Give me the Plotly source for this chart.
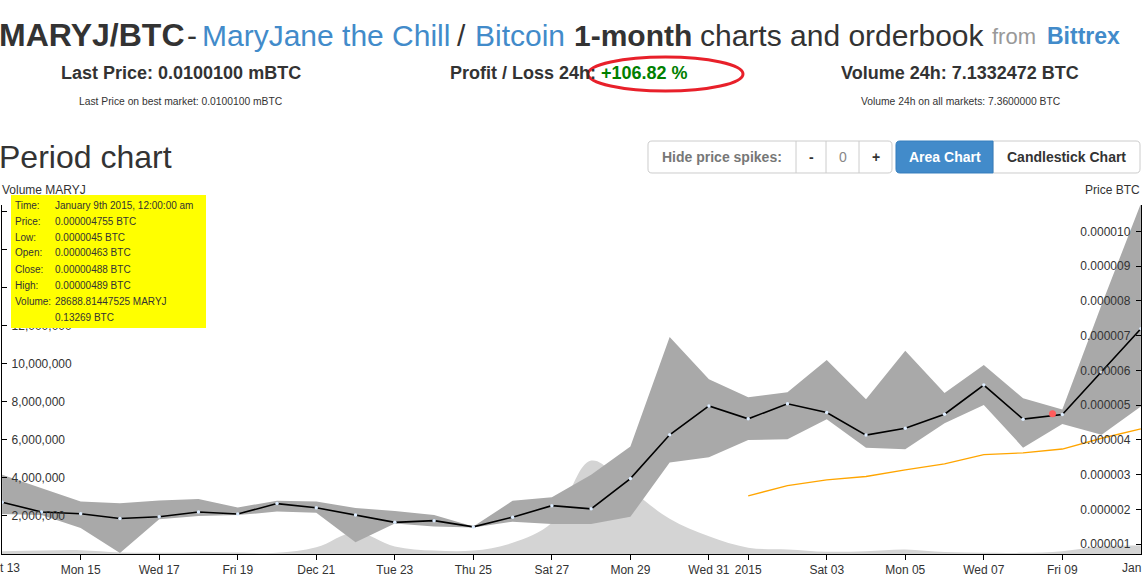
import plotly.graph_objects as go

# ---------------- data ----------------
dates = ["2014-12-13", "2014-12-14", "2014-12-15", "2014-12-16", "2014-12-17",
         "2014-12-18", "2014-12-19", "2014-12-20", "2014-12-21", "2014-12-22",
         "2014-12-23", "2014-12-24", "2014-12-25", "2014-12-26", "2014-12-27",
         "2014-12-28", "2014-12-29", "2014-12-30", "2014-12-31", "2015-01-01",
         "2015-01-02", "2015-01-03", "2015-01-04", "2015-01-05", "2015-01-06",
         "2015-01-07", "2015-01-08", "2015-01-09", "2015-01-10", "2015-01-11"]

price_btc = [0.00000221, 0.00000193, 0.00000188, 0.00000174, 0.00000179,
             0.00000193, 0.00000187, 0.00000217, 0.00000205, 0.00000184,
             0.00000163, 0.00000168, 0.00000150, 0.00000178, 0.00000211,
             0.00000202, 0.00000289, 0.00000415, 0.00000498, 0.00000461,
             0.00000504, 0.00000479, 0.00000414, 0.00000434, 0.00000474,
             0.00000558, 0.00000460, 0.00000473, 0.00000595, 0.00000720]

high_btc = [0.00000300, 0.00000262, 0.00000223, 0.00000218, 0.00000226,
            0.00000230, 0.00000206, 0.00000225, 0.00000223, 0.00000204,
            0.00000196, 0.00000184, 0.00000151, 0.00000225, 0.00000235,
            0.00000300, 0.00000381, 0.00000696, 0.00000575, 0.00000523,
            0.00000537, 0.00000630, 0.00000517, 0.00000657, 0.00000535,
            0.00000616, 0.00000520, 0.00000488, 0.00000789, 0.00001080]

low_btc = [0.00000187, 0.00000184, 0.00000147, 0.00000075, 0.00000172,
           0.00000181, 0.00000184, 0.00000194, 0.00000191, 0.00000106,
           0.00000160, 0.00000151, 0.00000148, 0.00000165, 0.00000158,
           0.00000158, 0.00000179, 0.00000335, 0.00000350, 0.00000400,
           0.00000402, 0.00000460, 0.00000378, 0.00000373, 0.00000448,
           0.00000501, 0.00000378, 0.00000446, 0.00000415, 0.00000496]

volume_maryj = [150000, 180000, 200000, 80000, 60000,
                80000, 80000, 60000, 350000, 1150000,
                400000, 180000, 180000, 590000, 1640000,
                4910000, 3390000, 1850000, 930000, 330000,
                240000, 120000, 150000, 240000, 100000,
                60000, 60000, 150000, 410000, 450000]

avg_dates = ["2015-01-01", "2015-01-02", "2015-01-03", "2015-01-04", "2015-01-05",
             "2015-01-06", "2015-01-07", "2015-01-08", "2015-01-09", "2015-01-10",
             "2015-01-11"]
avg_btc = [0.00000239, 0.00000269, 0.00000285, 0.00000295, 0.00000314,
           0.00000331, 0.00000358, 0.00000363, 0.00000374, 0.00000405,
           0.00000432]

hover_date = ["2015-01-08 18:00"]
hover_price = [0.000004755]

x_tick_dates = ["2014-12-13", "2014-12-15", "2014-12-17", "2014-12-19", "2014-12-21",
                "2014-12-23", "2014-12-25", "2014-12-27", "2014-12-29", "2014-12-31",
                "2015-01-01", "2015-01-03", "2015-01-05", "2015-01-07", "2015-01-09",
                "2015-01-11"]
# the first and last labels are shown cut by the page border in the reference
x_tick_text = ["t 13", "Mon 15", "Wed 17", "Fri 19", "Dec 21", "Tue 23", "Thu 25",
               "Sat 27", "Mon 29", "Wed 31", "2015", "Sat 03", "Mon 05", "Wed 07",
               "Fri 09", "Jan"]
vol_ticks = [0, 2000000, 4000000, 6000000, 8000000, 10000000, 12000000,
             14000000, 16000000, 18000000]
# labels above 12,000,000 are hidden behind the tooltip in the reference
vol_tick_text = ["0", "2,000,000", "4,000,000", "6,000,000", "8,000,000",
                 "10,000,000", "12,000,000", "", "", ""]
price_ticks = [0.000001, 0.000002, 0.000003, 0.000004, 0.000005,
               0.000006, 0.000007, 0.000008, 0.000009, 0.000010]

tooltip_labels = ["Time:", "Price:", "Low:", "Open:", "Close:", "High:", "Volume:", ""]
tooltip_values = ["January 9th 2015, 12:00:00 am", "0.000004755 BTC", "0.0000045 BTC",
                  "0.00000463 BTC", "0.00000488 BTC", "0.00000489 BTC",
                  "28688.81447525 MARYJ", "0.13269 BTC"]

# ---------------- geometry helpers ----------------
W, H = 1144, 580
L, R, T, B = 2, 3, 205, 26
PW, PH = W - L - R, H - T - B
FONT = "Liberation Sans, Arial, sans-serif"
DARK = "#333333"
BLUE = "#428bca"


def fx(px):
    return (px - L) / PW


def fy(py):
    return (H - B - py) / PH


fig = go.Figure()

fig.add_trace(go.Scatter(
    x=dates, y=volume_maryj, yaxis="y", mode="lines",
    line=dict(shape="spline", smoothing=1.0, width=0, color="#d4d4d4"),
    fill="tozeroy", fillcolor="#d4d4d4", hoverinfo="skip", showlegend=False))

fig.add_trace(go.Scatter(
    x=dates, y=low_btc, yaxis="y2", mode="lines",
    line=dict(width=0, color="#a9a9a9"), hoverinfo="skip", showlegend=False))
fig.add_trace(go.Scatter(
    x=dates, y=high_btc, yaxis="y2", mode="lines",
    line=dict(width=0, color="#a9a9a9"), fill="tonexty", fillcolor="#a9a9a9",
    hoverinfo="skip", showlegend=False))

fig.add_trace(go.Scatter(
    x=avg_dates, y=avg_btc, yaxis="y2", mode="lines",
    line=dict(width=1.3, color="#ffa500"), hoverinfo="skip", showlegend=False))

fig.add_trace(go.Scatter(
    x=dates, y=price_btc, yaxis="y2", mode="lines+markers",
    line=dict(width=1.6, color="#000000"),
    marker=dict(size=3.5, color="#dcecff", line=dict(width=0)),
    hoverinfo="skip", showlegend=False))

fig.add_trace(go.Scatter(
    x=hover_date, y=hover_price, yaxis="y2", mode="markers",
    marker=dict(size=7, color="#ff5c5c", line=dict(width=0)),
    hoverinfo="skip", showlegend=False))

shapes = []
annotations = []


def ann(text, px, py, size, color=DARK, xanchor="left", bold=False):
    if bold:
        text = "<b>" + text + "</b>"
    annotations.append(dict(
        text=text, x=fx(px), y=fy(py), xref="paper", yref="paper",
        xanchor=xanchor, yanchor="middle", showarrow=False,
        font=dict(family=FONT, size=size, color=color),
        borderpad=0, borderwidth=0))


def rrect(x0, y0, x1, y1, rl, rr, fill, line):
    def P(px, py):
        return "%.6f,%.6f" % (fx(px), fy(py))
    path = ("M " + P(x0 + rl, y0) + " L " + P(x1 - rr, y0) +
            " Q " + P(x1, y0) + " " + P(x1, y0 + rr) +
            " L " + P(x1, y1 - rr) +
            " Q " + P(x1, y1) + " " + P(x1 - rr, y1) +
            " L " + P(x0 + rl, y1) +
            " Q " + P(x0, y1) + " " + P(x0, y1 - rl) +
            " L " + P(x0, y0 + rl) +
            " Q " + P(x0, y0) + " " + P(x0 + rl, y0) + " Z")
    shapes.append(dict(type="path", path=path, xref="paper", yref="paper",
                       fillcolor=fill, line=dict(color=line, width=1), layer="above"))


# ---------------- header ----------------
TY = 35
ann("MARYJ/BTC", -1, TY, 32, DARK, bold=True)
ann("-", 187, TY, 30, DARK)
ann("MaryJane the Chill", 202, TY, 30, BLUE)
ann("/", 457, TY, 30, DARK)
ann("Bitcoin", 475, TY, 30, BLUE)
ann("1-month", 574, TY, 30, DARK, bold=True)
ann("charts and orderbook", 700, TY, 30, DARK)
ann("from", 992, TY + 1, 22, "#999999")
ann("Bittrex", 1047, TY + 1, 23, BLUE, bold=True)

ann("Last Price: 0.0100100 mBTC", 181, 73, 18, DARK, xanchor="center", bold=True)
ann("Profit / Loss 24h: <span style='color:#008000'>+106.82 %</span>", 450, 73, 18,
    DARK, bold=True)
ann("Volume 24h: 7.1332472 BTC", 960, 73, 18, DARK, xanchor="center", bold=True)
ann("Last Price on best market: 0.0100100 mBTC", 181, 102, 10.3, DARK, xanchor="center")
ann("Volume 24h on all markets: 7.3600000 BTC", 961, 102, 10.3, DARK, xanchor="center")

shapes.append(dict(type="circle", xref="paper", yref="paper",
                   x0=fx(588), x1=fx(743), y0=fy(91), y1=fy(57),
                   line=dict(color="#e8202a", width=3), layer="above"))

ann("Period chart", -1, 157, 32, DARK)

# buttons
rrect(648, 141, 892, 173, 4, 4, "#ffffff", "#cccccc")
for dx in (796, 826, 859):
    shapes.append(dict(type="line", xref="paper", yref="paper",
                       x0=fx(dx), x1=fx(dx), y0=fy(141), y1=fy(173),
                       line=dict(color="#cccccc", width=1), layer="above"))
rrect(993, 141, 1140, 173, 0, 4, "#ffffff", "#cccccc")
rrect(896, 141, 993, 173, 4, 0, BLUE, "#357ebd")
ann("Hide price spikes:", 722, 157, 14, "#777777", xanchor="center", bold=True)
ann("-", 811, 157, 14, DARK, xanchor="center", bold=True)
ann("0", 842.5, 157, 14, "#888888", xanchor="center")
ann("+", 875.5, 157, 14, DARK, xanchor="center", bold=True)
ann("Area Chart", 944.5, 157, 14, "#ffffff", xanchor="center", bold=True)
ann("Candlestick Chart", 1066.5, 157, 14, DARK, xanchor="center", bold=True)

# axis titles
ann("Volume MARYJ", 2, 190, 12, DARK)
ann("Price BTC", 1140, 190, 12, DARK, xanchor="right")

# edge tick labels of the x axis (as visible in the reference)
ann(x_tick_text[0], 0, 568, 12, DARK, xanchor="left")
ann(x_tick_text[-1], 1141, 568, 12, DARK, xanchor="right")
axis_tick_text = [""] + x_tick_text[1:-1] + [""]

# tooltip
shapes.append(dict(type="rect", xref="paper", yref="paper",
                   x0=fx(11), x1=fx(206), y0=fy(328), y1=fy(195),
                   fillcolor="#ffff00", line=dict(width=0), layer="above"))
for i, (lab, val) in enumerate(zip(tooltip_labels, tooltip_values)):
    yy = 205 + 16 * i
    if lab:
        ann(lab, 15, yy, 10, DARK)
    ann(val, 55, yy, 10, DARK)

axis_font = dict(family=FONT, size=12, color=DARK)

fig.update_layout(
    width=W, height=H,
    margin=dict(l=L, r=R, t=T, b=B, pad=0, autoexpand=False),
    paper_bgcolor="#ffffff", plot_bgcolor="#ffffff",
    showlegend=False, hovermode=False,
    font=dict(family=FONT, color=DARK),
    xaxis=dict(
        type="date", range=["2014-12-12 23:55", "2015-01-11 00:05"],
        tickmode="array", tickvals=x_tick_dates, ticktext=axis_tick_text,
        ticks="outside", ticklen=5, tickcolor="#000000", tickwidth=1,
        automargin=False,
        showline=True, linecolor="#000000", linewidth=1,
        showgrid=False, zeroline=False, tickfont=axis_font,
        fixedrange=True),
    yaxis=dict(
        range=[0, 18350000], tickmode="array", tickvals=vol_ticks,
        ticktext=vol_tick_text, ticks="inside", ticklen=5, tickcolor="#000000",
        ticklabelposition="inside", ticklabelstandoff=4, automargin=False,
        showline=True, linecolor="#000000",
        linewidth=1, showgrid=False, zeroline=False, tickfont=axis_font,
        fixedrange=True),
    yaxis2=dict(
        overlaying="y", side="right", range=[0.00000072, 0.00001076],
        tickmode="array", tickvals=price_ticks, tickformat=".6f",
        ticks="inside", ticklen=5, tickcolor="#000000",
        ticklabelposition="inside", ticklabelstandoff=5, automargin=False,
        showline=True, linecolor="#000000",
        linewidth=1, showgrid=False, zeroline=False, tickfont=axis_font,
        fixedrange=True),
    shapes=shapes, annotations=annotations,
)

fig.write_html("out.html", config={"displayModeBar": False})
